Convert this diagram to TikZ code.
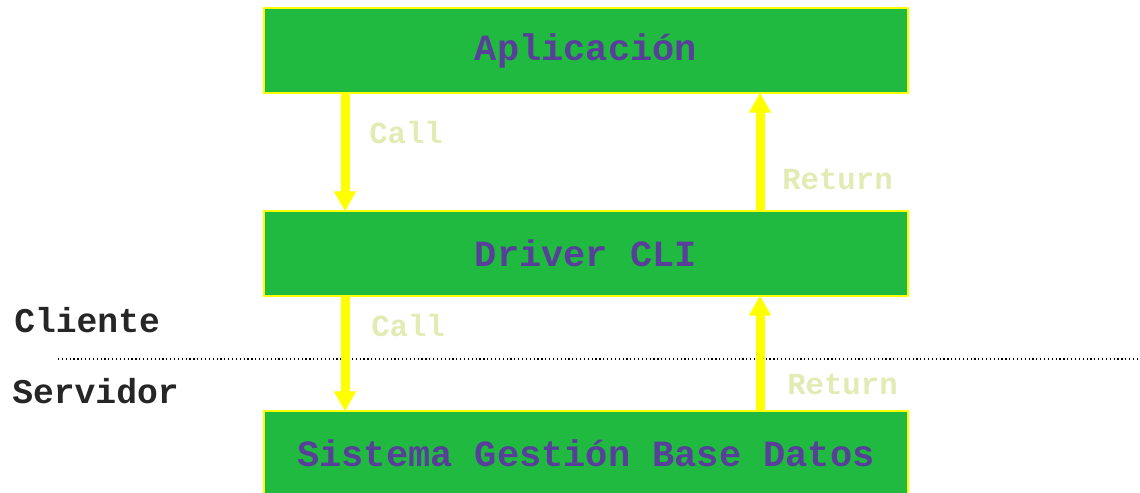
\documentclass[tikz,border=0pt]{standalone}
\usepackage{fontspec}
\setmonofont{Liberation Mono}
\usepackage{xcolor}
\usepackage{tikz}
\usetikzlibrary{arrows.meta}
\definecolor{boxgreen}{HTML}{21BA41}
\definecolor{lilac}{HTML}{58409A}
\definecolor{pale}{HTML}{E2EBB3}
\definecolor{ylw}{HTML}{FFFF00}

\begin{document}
\begin{tikzpicture}[x=0.75pt, y=-0.75pt,
    tier/.style={fill=boxgreen, draw=ylw, line width=1.5pt, minimum width=483pt, minimum height=63.75pt, text=lilac, font=\ttfamily\bfseries\fontsize{27.75}{30}\selectfont},
    msg/.style={anchor=west, inner sep=0pt, text=pale, font=\ttfamily\bfseries\fontsize{23}{26}\selectfont},
    side/.style={anchor=west, inner sep=0pt, text=black!85, font=\ttfamily\bfseries\fontsize{26}{28}\selectfont},
    arrow/.style={-{Triangle[width=15.75pt, length=15pt]}, line width=6.75pt, color=ylw, shorten >=-1pt}
]
\useasboundingbox (0,0) rectangle (1140,493);
\node[tier] (app) at (586, 50.5) {Aplicación};
\node[tier] (drv) at (586, 253.5) {Driver CLI};
\node[tier] (sgbd) at (586, 453.5) {Sistema Gestión Base Datos};
\node[msg] (call1) at (369, 133) {Call};
\node[msg] (ret1) at (782, 179) {Return};
\node[msg] (call2) at (371, 326) {Call};
\node[msg] (ret2) at (787, 384) {Return};
\node[side] (cli) at (14, 320) {Cliente};
\node[side] (srv) at (12, 391) {Servidor};
\draw[dotted, line width=0.9pt] (58, 359) -- (1140, 359);
\draw[arrow] ([xshift=61.5pt]app.south west) -- ([xshift=61.5pt]drv.north west);
\draw[arrow] ([xshift=-111.75pt]drv.north east) -- ([xshift=-111.75pt]app.south east);
\draw[arrow] ([xshift=61.5pt]drv.south west) -- ([xshift=61.5pt]sgbd.north west);
\draw[arrow] ([xshift=-111.75pt]sgbd.north east) -- ([xshift=-111.75pt]drv.south east);
\end{tikzpicture}
\end{document}
